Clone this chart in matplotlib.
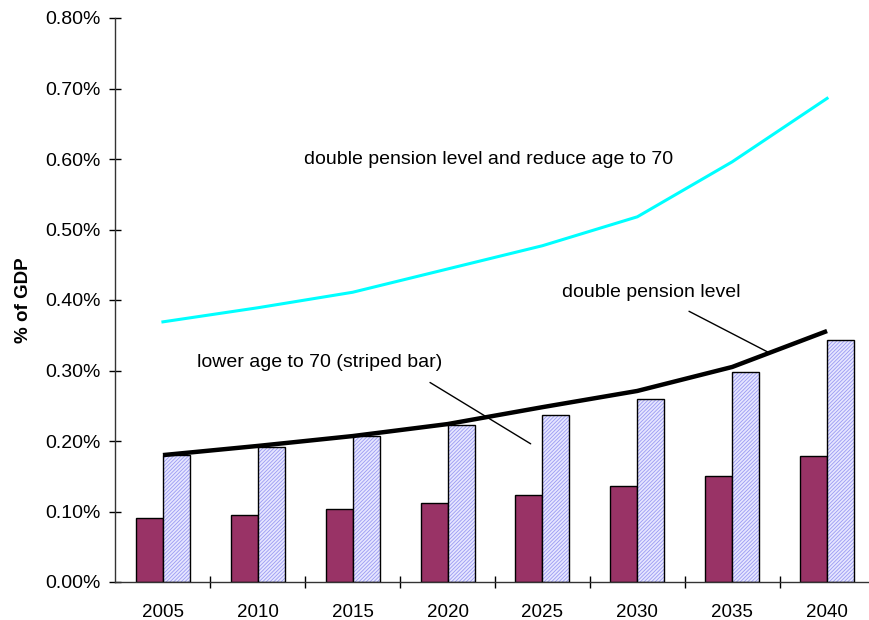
import numpy as np
import matplotlib
matplotlib.use("Agg")
import matplotlib.pyplot as plt
from matplotlib.ticker import FuncFormatter, FixedLocator

plt.rcParams['font.family'] = ['Liberation Sans', 'DejaVu Sans']

# values, in % of GDP
years = ['2005', '2010', '2015', '2020', '2025', '2030', '2035', '2040']
base = [0.091, 0.095, 0.1035, 0.1125, 0.123, 0.136, 0.151, 0.179]
lower_age = [0.180, 0.191, 0.207, 0.222, 0.237, 0.259, 0.2975, 0.343]
double_level = [0.180, 0.193, 0.207, 0.224, 0.248, 0.271, 0.305, 0.356]
double_and_age = [0.369, 0.389, 0.411, 0.444, 0.477, 0.518, 0.596, 0.686]
yticks = [0.0, 0.1, 0.2, 0.3, 0.4, 0.5, 0.6, 0.7, 0.8]

fig = plt.figure(figsize=(8.7, 6.2), dpi=100)
ax = fig.add_axes([115.5 / 870, 38 / 620, 759 / 870, 564 / 620])

x = np.arange(len(years))
w = 0.285
ax.bar(x - w / 2, base, w, color='#993366', edgecolor='black', linewidth=1, zorder=2)
# hatched bars: hatch drawn first, black outline on top
plt.rcParams['hatch.linewidth'] = 0.6
ax.bar(x + w / 2, lower_age, w, color='#e6e6ff', edgecolor='#9a9af2', hatch='/////////',
       linewidth=0, zorder=2)
ax.bar(x + w / 2, lower_age, w, fill=False, edgecolor='black', linewidth=1, zorder=3)

ax.plot(x, double_level, color='black', lw=3.2, solid_capstyle='butt', zorder=4)
ax.plot(x, double_and_age, color='#00ffff', lw=2.2, zorder=4)

fs = 14
ax.text(1.486, 0.599, 'double pension level and reduce age to 70', fontsize=fs, va='center')
ax.text(4.206, 0.41, 'double pension level', fontsize=fs, va='center')
ax.text(0.358, 0.311, 'lower age to 70 (striped bar)', fontsize=fs, va='center')
ax.annotate('', xy=(6.378, 0.326), xytext=(5.545, 0.384),
            arrowprops=dict(arrowstyle='-', lw=1, color='black', shrinkA=0, shrinkB=0))
ax.annotate('', xy=(3.876, 0.196), xytext=(2.815, 0.283),
            arrowprops=dict(arrowstyle='-', lw=1, color='black', shrinkA=0, shrinkB=0))

ax.set_xlim(-0.5, len(years) - 0.5)
ax.set_ylim(0, 0.8)
ax.set_yticks(yticks)
ax.yaxis.set_major_formatter(FuncFormatter(lambda v, p: '%.2f%%' % v))
ax.set_xticks(x)
ax.set_xticklabels(years)
ax.xaxis.set_minor_locator(FixedLocator(x[1:] - 0.5))
ax.tick_params(axis='x', which='major', length=0, labelsize=13.5, pad=16)
ax.tick_params(axis='x', which='minor', direction='inout', length=9, width=1)
ax.tick_params(axis='y', direction='inout', length=9, width=1, labelsize=14, pad=6)
ax.set_ylabel('% of GDP', fontsize=13.5, fontweight='bold', labelpad=10)

for s in ['top', 'right']:
    ax.spines[s].set_visible(False)
for s in ['left', 'bottom']:
    ax.spines[s].set_color('#333333')
    ax.spines[s].set_linewidth(1)

fig.savefig('out.png', dpi=100)
